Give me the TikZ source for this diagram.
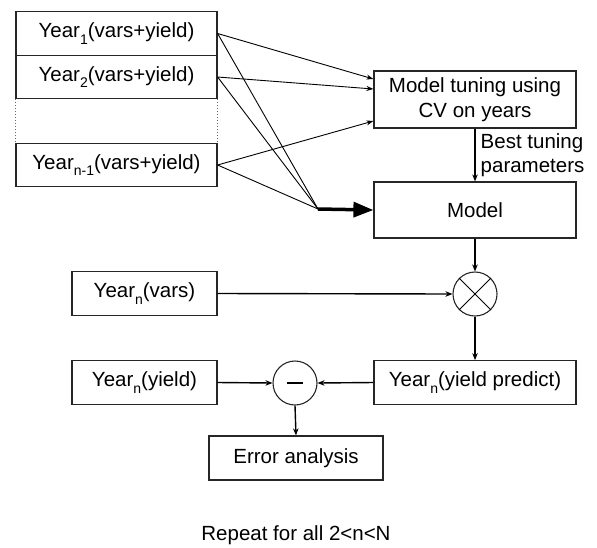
\documentclass[tikz,border=0pt]{standalone}
\usepackage{fontspec}
\setmainfont{Liberation Sans}
\usetikzlibrary{arrows.meta,calc}
\newcommand\fsz{\fontsize{20.5}{24.5}\selectfont}
\newcommand\yr[1]{Year\raisebox{-6.5pt}{\fontsize{14}{14}\selectfont #1}}
\begin{document}
\begin{tikzpicture}[x=1pt,y=-1pt,
  box/.style={draw=black!85,line width=1.2pt,minimum width=#1,minimum height=43.5pt,inner sep=0pt,font=\fsz,align=center},
  sumc/.style={circle,draw=black!85,line width=1.1pt,minimum size=44pt,inner sep=0pt},
  fan/.style={line width=0.9pt},
  fanarrow/.style={line width=0.9pt,-{Stealth[length=7pt,width=5pt]}},
  flow/.style={line width=1.4pt,-{Stealth[length=7pt,width=5.5pt]}},
  big/.style={line width=3.5pt,-{Triangle[length=20pt,width=15pt]}}]
\useasboundingbox (0,0) rectangle (597,547);
% left stack
\node[box=201pt] (y1) at (116.5,33.5) {\yr{1}(vars+yield)};
\node[box=201pt] (y2) at (116.5,77) {\yr{2}(vars+yield)};
\node[minimum width=201pt,minimum height=44pt,inner sep=0pt] (gap) at (116.5,121) {};
\node[box=201pt] (yn1) at (116.5,165) {\yr{n-1}(vars+yield)};
\draw[dotted,line width=1pt,black!60] (gap.north west) -- (gap.south west);
\draw[dotted,line width=1pt,black!60] (gap.north east) -- (gap.south east);
% right column
\node[box=202pt,minimum height=57pt] (tune) at (475,99.5) {Model tuning using\\CV on years};
\node[box=202pt,minimum height=56pt] (model) at (475,210) {Model};
\node[sumc] (mult) at (475,294) {};
\draw[line width=1pt] (mult.north east) -- (mult.south west);
\draw[line width=1pt] (mult.north west) -- (mult.south east);
\node[box=202pt] (pred) at (475,382.5) {\yr{n}(yield predict)};
\node[box=145pt] (vars) at (144.5,293.5) {\yr{n}(vars)};
\node[box=145pt] (yield) at (144.5,382.5) {\yr{n}(yield)};
\node[sumc] (minus) at (295,383) {};
\draw[line width=2.5pt] ([xshift=-8pt]minus.center) -- ([xshift=8pt]minus.center);
\node[box=174pt,minimum height=44pt] (err) at (296,458) {Error analysis};
\node[font=\fsz] (rep) at (296,535) {Repeat for all 2<n<N};
% fan connectors
\coordinate (m) at (318,209);
\draw[fanarrow] (y1.east) -- ([yshift=20.5pt]tune.west);
\draw[fanarrow] (y2.east) -- ([yshift=10.5pt]tune.west);
\draw[fanarrow] (yn1.east) -- ([yshift=-21.5pt]tune.west);
\draw[fan] (y1.east) -- (m);
\draw[fan] (y2.east) -- (m);
\draw[fan] (yn1.east) -- (m);
\draw[big] (m) -- (model.west);
% flow
\draw[flow] (tune.south) -- (model.north)
  node[pos=0.5,anchor=west,align=left,font=\fsz,inner sep=0pt,xshift=5pt] (lbl) {Best tuning\\parameters};
\draw[flow] (model.south) -- (mult.north);
\draw[flow] (vars.east) -- (mult.west);
\draw[flow] (mult.south) -- (pred.north);
\draw[flow] (yield.east) -- (minus.west);
\draw[flow] (pred.west) -- (minus.east);
\draw[flow] (minus.south) -- (err.north);
\end{tikzpicture}
\end{document}
